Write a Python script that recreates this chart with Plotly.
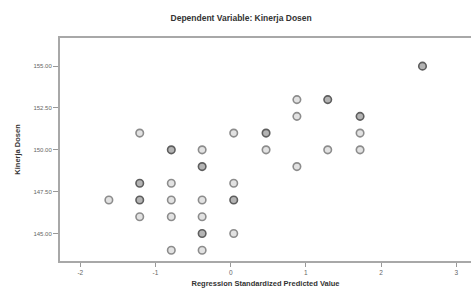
import plotly.graph_objects as go

# Data (standardized predicted value vs. Kinerja Dosen)
pred_x = [2.55, 0.88, 1.29, 0.88, 1.72, 0.47, 1.72, 0.47, 1.29, 1.72, 0.88,
          -1.21, 0.04, -0.79, -0.38, -0.38, -1.21, -0.79, 0.04,
          -1.62, -1.21, -0.79, -0.38, 0.04, -1.21, -0.79, -0.38,
          -0.38, 0.04, -0.79, -0.38]
kinerja = [155, 153, 153, 152, 152, 151, 151, 150, 150, 150, 149,
           151, 151, 150, 150, 149, 148, 148, 148,
           147, 147, 147, 147, 147, 146, 146, 146,
           145, 145, 144, 144]
# number of overlapping cases at each plotted position (darker markers)
overlap = [2, 1, 2, 1, 2, 2, 1, 1, 1, 1, 1,
           1, 1, 2, 1, 2, 2, 1, 1,
           1, 2, 1, 1, 2, 1, 1, 1,
           2, 1, 1, 1]

y_ticks = [145.0, 147.5, 150.0, 152.5, 155.0]
x_ticks = [-2, -1, 0, 1, 2, 3]

fill = ['#b4b4b4' if c > 1 else '#e2e2e2' for c in overlap]
edge = ['#5e5e5e' if c > 1 else '#8c8c8c' for c in overlap]

fig = go.Figure()
fig.add_trace(go.Scatter(
    x=pred_x, y=kinerja, mode='markers',
    marker=dict(symbol='circle', size=7.5, color=fill,
                line=dict(color=edge, width=1.6)),
    showlegend=False, hoverinfo='skip', cliponaxis=False))

font = 'Liberation Sans, Arial, sans-serif'
fig.update_layout(
    width=471, height=297,
    margin=dict(l=60, r=0, t=38, b=36, autoexpand=False),
    paper_bgcolor='white', plot_bgcolor='white',
    font=dict(family=font, color='#222'),
    title=dict(text='<b>Dependent Variable: Kinerja Dosen</b>',
               x=0.512, xanchor='center', y=0.94, yanchor='middle',
               font=dict(size=8.5, color='#333')),
    xaxis=dict(range=[-2.27, 3.195], tickvals=x_ticks,
               ticktext=[str(v) for v in x_ticks], automargin=False,
               showgrid=False, zeroline=False,
               showline=True, linecolor='#a8a8a8', linewidth=2, mirror=True,
               ticks='outside', ticklen=4, tickcolor='#999', tickwidth=1,
               tickfont=dict(size=6.5, color='#666'),
               title=dict(text='<b>Regression Standardized Predicted Value</b>',
                          font=dict(size=7.5, color='#333'), standoff=6)),
    yaxis=dict(range=[143.36, 156.68], tickvals=y_ticks,
               ticktext=['%.2f' % v for v in y_ticks], automargin=False,
               showgrid=False, zeroline=False,
               showline=True, linecolor='#a8a8a8', linewidth=2, mirror=True,
               ticks='outside', ticklen=5, tickcolor='#999', tickwidth=1,
               tickfont=dict(size=6, color='#666'),
               title=dict(text='<b>Kinerja Dosen</b>',
                          font=dict(size=7.5, color='#333'), standoff=12)),
)

fig.write_html('out.html', config={'displayModeBar': False},
               post_script="document.body.style.margin='0';"
                           "document.body.style.overflow='hidden';")
